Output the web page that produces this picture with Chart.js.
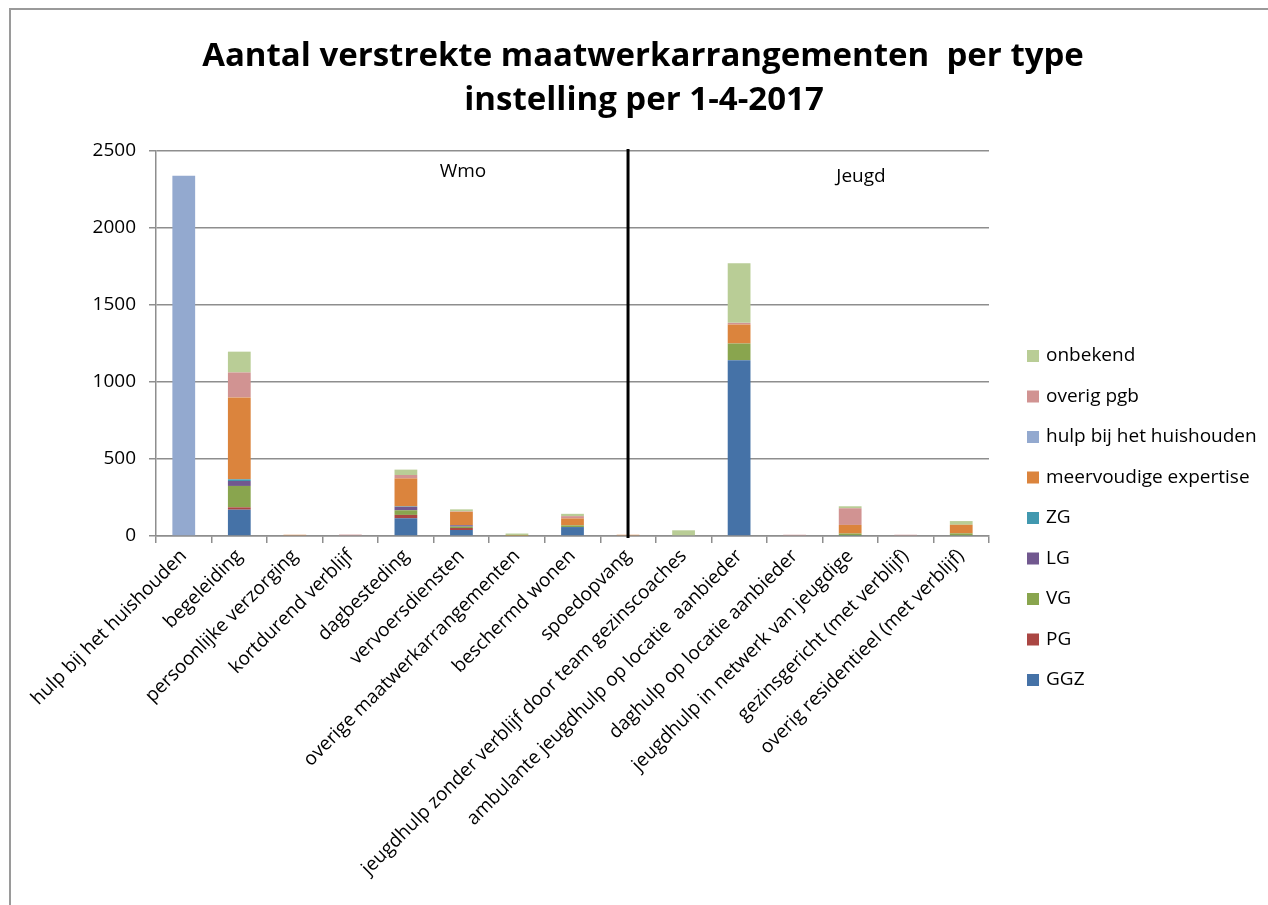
<!DOCTYPE html>
<html>
<head>
<meta charset="utf-8">
<script src="https://cdn.jsdelivr.net/npm/chart.js@4/dist/chart.umd.min.js"></script>
<style>
  html, body { margin: 0; padding: 0; background: #ffffff; }
  #wrap { position: relative; width: 1268px; height: 905px; }
  canvas { display: block; }
</style>
</head>
<body>
<div id="wrap"><canvas id="c" width="1268" height="905"></canvas></div>
<script>
const chartTitle = ['Aantal verstrekte maatwerkarrangementen  per type', 'instelling per 1-4-2017'];
const categories = [
  'hulp bij het huishouden',
  'begeleiding',
  'persoonlijke verzorging',
  'kortdurend verblijf',
  'dagbesteding',
  'vervoersdiensten',
  'overige maatwerkarrangementen',
  'beschermd wonen',
  'spoedopvang',
  'jeugdhulp zonder verblijf door team gezinscoaches',
  'ambulante jeugdhulp op locatie  aanbieder',
  'daghulp op locatie aanbieder',
  'jeugdhulp in netwerk van jeugdige',
  'gezinsgericht (met verblijf)',
  'overig residentieel (met verblijf)'
];
const yTicks = [0, 500, 1000, 1500, 2000, 2500];
const groupLabels = ['Wmo', 'Jeugd'];
const dividerCategory = 'spoedopvang';

const seriesNames = ['GGZ', 'PG', 'VG', 'LG', 'ZG', 'meervoudige expertise', 'hulp bij het huishouden', 'overig pgb', 'onbekend'];
const ggz      = [0, 171, 0, 0, 115, 39, 0, 58, 0, 0, 1142, 0, 3, 0, 4];
const pg       = [0, 15, 0, 0, 22, 13, 0, 0, 0, 0, 0, 0, 0, 0, 0];
const vg       = [0, 139, 0, 0, 30, 9, 3, 11, 0, 0, 108, 0, 13, 0, 13];
const lg       = [0, 32, 0, 0, 22, 9, 0, 0, 0, 0, 0, 0, 0, 0, 0];
const zg       = [0, 11, 0, 0, 3, 0, 0, 0, 0, 0, 0, 0, 0, 0, 0];
const meerv    = [0, 532, 8, 5, 182, 87, 3, 45, 8, 0, 123, 0, 56, 0, 56];
const hbh      = [2340, 0, 0, 0, 0, 0, 0, 0, 0, 0, 0, 0, 0, 0, 0];
const overigPgb= [0, 162, 0, 4, 22, 3, 0, 15, 0, 0, 11, 8, 108, 8, 0];
const onbekend = [0, 135, 0, 0, 35, 13, 10, 15, 0, 37, 387, 0, 13, 0, 24];
const seriesValues = [ggz, pg, vg, lg, zg, meerv, hbh, overigPgb, onbekend];
const seriesColors = ['#4572A7', '#AA4643', '#89A54E', '#71588F', '#4198AF', '#DB843D', '#93A9CF', '#D19392', '#B9CD96'];

const FONT = "'Open Sans', 'Liberation Sans', sans-serif";
const GRID = '#8e8e8e';

const decorPlugin = {
  id: 'decor',
  beforeDraw(chart) {
    const ctx = chart.ctx;
    ctx.save();
    ctx.strokeStyle = '#9a9a9a';
    ctx.lineWidth = 2;
    ctx.beginPath();
    ctx.moveTo(10, 905);
    ctx.lineTo(10, 9);
    ctx.lineTo(1268, 9);
    ctx.stroke();
    ctx.restore();
  },
  afterDraw(chart) {
    const ctx = chart.ctx;
    const area = chart.chartArea;
    const xs = chart.scales.x;
    ctx.save();
    ctx.fillStyle = '#000';
    ctx.textAlign = 'center';
    ctx.textBaseline = 'middle';
    ctx.font = 'bold 33px ' + FONT;
    ctx.fillText(chartTitle[0], 643, 57);
    ctx.fillText(chartTitle[1], 644, 101);
    const dx = xs.getPixelForValue(categories.indexOf(dividerCategory));
    ctx.strokeStyle = '#000';
    ctx.lineWidth = 3;
    ctx.beginPath();
    ctx.moveTo(dx, area.top - 2);
    ctx.lineTo(dx, area.bottom + 2);
    ctx.stroke();
    ctx.font = '19px ' + FONT;
    ctx.fillText(groupLabels[0], 463, 172);
    ctx.fillText(groupLabels[1], 861, 177);
    ctx.textAlign = 'left';
    let y = 356;
    for (let i = seriesNames.length - 1; i >= 0; i--) {
      ctx.fillStyle = seriesColors[i];
      ctx.fillRect(1027, y - 6, 12, 12);
      ctx.fillStyle = '#000';
      ctx.fillText(seriesNames[i], 1046, y);
      y += 40.5;
    }
    ctx.restore();
  }
};

new Chart(document.getElementById('c'), {
  type: 'bar',
  data: {
    labels: categories,
    datasets: seriesNames.map((n, i) => ({
      label: n,
      data: seriesValues[i],
      backgroundColor: seriesColors[i],
      borderWidth: 0,
      categoryPercentage: 1.0,
      barPercentage: 0.41
    }))
  },
  options: {
    responsive: false,
    animation: false,
    devicePixelRatio: 1,
    layout: { padding: { left: 10, top: 151, right: 279, bottom: 0 } },
    plugins: { legend: { display: false }, title: { display: false }, tooltip: { enabled: false } },
    scales: {
      x: {
        stacked: true,
        afterFit(s) { s.height = 905 - 536; },
        grid: { drawOnChartArea: false, drawTicks: true, tickLength: 7, color: GRID, lineWidth: 1.5, offset: true },
        border: { color: GRID, width: 1.5 },
        ticks: {
          autoSkip: false, maxRotation: 45, minRotation: 45,
          color: '#000', font: { family: FONT, size: 19 }, padding: 2
        }
      },
      y: {
        stacked: true,
        min: 0, max: 2500,
        afterFit(s) { s.width = 146; },
        afterBuildTicks(s) { s.ticks = yTicks.map(v => ({ value: v })); },
        grid: { color: GRID, lineWidth: 1.5, tickLength: 7, drawTicks: true },
        border: { color: GRID, width: 1.5 },
        ticks: { color: '#000', font: { family: FONT, size: 19 }, padding: 13, callback: v => String(v) }
      }
    }
  },
  plugins: [decorPlugin]
});
</script>
</body>
</html>
